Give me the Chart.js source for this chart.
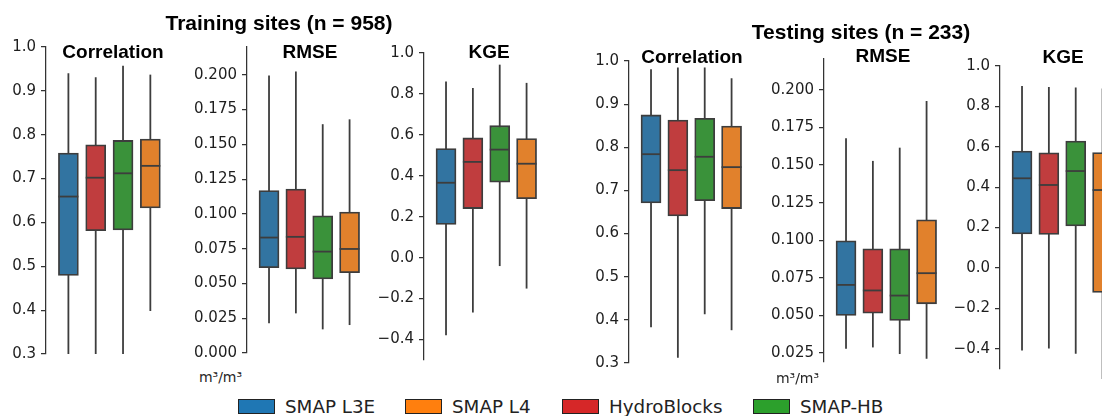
<!DOCTYPE html>
<html>
<head>
<meta charset="utf-8">
<script src="https://cdn.jsdelivr.net/npm/chart.js@4.4.1/dist/chart.umd.min.js"></script>
<style>
  html, body { margin: 0; padding: 0; background: #fff; }
  body { width: 1102px; height: 416px; position: relative; overflow: hidden; }
  canvas { position: absolute; }
  .title { position: absolute; transform: translateX(-50%); white-space: nowrap; line-height: 1;
           font-family: 'Liberation Sans', Arial, sans-serif; font-weight: bold; color: #000; }
  .unit { position: absolute; transform: translateX(-50%); white-space: nowrap; line-height: 1;
          font-family: 'DejaVu Sans', sans-serif; font-size: 14px; color: #262626; }
  .patch { position: absolute; width: 35px; height: 13px; border: 1px solid #222; }
  .ltext { position: absolute; line-height: 1; white-space: nowrap;
           font-family: 'DejaVu Sans', sans-serif; font-size: 18.3px; color: #222; }
</style>
</head>
<body>
<script>
// models, left to right inside each panel
const models = ['SMAP L3E', 'HydroBlocks', 'SMAP-HB', 'SMAP L4'];
const boxColors = ['#3274a1', '#c03d3e', '#3a923a', '#e1812c'];

// legend order
const legendLabels = ['SMAP L3E', 'SMAP L4', 'HydroBlocks', 'SMAP-HB'];
const legendColors = ['#1f77b4', '#ff7f0e', '#d62728', '#2ca02c'];

// each row: [whisker low, Q1, median, Q3, whisker high]
const trainCorr = [
    [0.30, 0.479, 0.659, 0.758, 0.940],
    [0.30, 0.581, 0.702, 0.777, 0.931],
    [0.30, 0.583, 0.712, 0.787, 0.957],
    [0.398, 0.633, 0.729, 0.790, 0.937],
];
const trainRmse = [
    [0.0214, 0.0614, 0.0830, 0.1168, 0.1995],
    [0.0285, 0.0604, 0.0835, 0.1178, 0.2024],
    [0.0170, 0.0532, 0.0729, 0.0986, 0.1645],
    [0.0201, 0.0578, 0.0748, 0.1014, 0.1680],
];
const trainKge = [
    [-0.379, 0.162, 0.366, 0.533, 0.861],
    [-0.268, 0.240, 0.468, 0.585, 0.829],
    [-0.041, 0.369, 0.528, 0.645, 0.943],
    [-0.151, 0.288, 0.459, 0.582, 0.854],
];
const testCorr = [
    [0.383, 0.671, 0.784, 0.875, 0.981],
    [0.312, 0.641, 0.747, 0.863, 0.985],
    [0.413, 0.676, 0.778, 0.867, 0.985],
    [0.376, 0.658, 0.754, 0.849, 0.960],
];
const testRmse = [
    [0.0278, 0.0500, 0.0703, 0.0996, 0.1679],
    [0.0287, 0.0515, 0.0666, 0.0943, 0.1528],
    [0.0243, 0.0466, 0.0632, 0.0943, 0.1616],
    [0.0211, 0.0577, 0.0781, 0.1136, 0.1927],
];
const testKge = [
    [-0.409, 0.169, 0.444, 0.579, 0.901],
    [-0.399, 0.166, 0.411, 0.570, 0.896],
    [-0.424, 0.208, 0.480, 0.628, 0.893],
    [-0.550, -0.121, 0.386, 0.572, 0.888],
];

// tick labels
const corrTicks = [0.3, 0.4, 0.5, 0.6, 0.7, 0.8, 0.9, 1.0];
const trainRmseTicks = [0, 0.025, 0.05, 0.075, 0.1, 0.125, 0.15, 0.175, 0.2];
const testRmseTicks = [0.025, 0.05, 0.075, 0.1, 0.125, 0.15, 0.175, 0.2];
const kgeTicks = [-0.4, -0.2, 0, 0.2, 0.4, 0.6, 0.8, 1.0];

const LINE = '#3d3d3d';
const AXW = 70;   // width reserved for y axis labels
const PAD = 14;

const panels = [
    { stats: trainCorr, ticks: corrTicks, dec: 1, min: 0.3, max: 1.0, axisX: 46, top: 47, bottom: 354, areaW: 118, title: 'Correlation', tx: 113, ty: 42 },
    { stats: trainRmse, ticks: trainRmseTicks, dec: 3, min: 0, max: 0.22, axisX: 247, top: 47, bottom: 353, areaW: 116, title: 'RMSE', tx: 310, ty: 42 },
    { stats: trainKge, ticks: kgeTicks, dec: 1, min: -0.5, max: 1.0, axisX: 424, top: 53, bottom: 360.5, areaW: 116, title: 'KGE', tx: 489, ty: 42 },
    { stats: testCorr, ticks: corrTicks, dec: 1, min: 0.3, max: 1.0, axisX: 629, top: 61, bottom: 363, areaW: 116, title: 'Correlation', tx: 692, ty: 46.5 },
    { stats: testRmse, ticks: testRmseTicks, dec: 3, min: 0.019, max: 0.2206, axisX: 824, top: 59, bottom: 362, areaW: 116, title: 'RMSE', tx: 883, ty: 46 },
    { stats: testKge, ticks: kgeTicks, dec: 1, min: -0.5, max: 1.0, axisX: 1000, top: 66, bottom: 369.5, areaW: 116, title: 'KGE', tx: 1063, ty: 46.5 },
];

function addText(cls, text, x, y, size) {
    const d = document.createElement('div');
    d.className = cls;
    d.textContent = text;
    d.style.left = x + 'px';
    d.style.top = y + 'px';
    if (size) d.style.fontSize = size + 'px';
    document.body.appendChild(d);
    return d;
}

// whiskers under the boxes, medians on top
function boxPlugin(stats) {
    return {
        id: 'boxes',
        beforeDatasetsDraw(chart) {
            const ctx = chart.ctx, xs = chart.scales.x, ys = chart.scales.y;
            ctx.save();
            ctx.strokeStyle = LINE;
            ctx.lineWidth = 1.8;
            stats.forEach((s, i) => {
                const px = xs.getPixelForValue(i);
                ctx.beginPath();
                ctx.moveTo(px, ys.getPixelForValue(s[0]));
                ctx.lineTo(px, ys.getPixelForValue(s[4]));
                ctx.stroke();
            });
            ctx.restore();
        },
        afterDatasetsDraw(chart) {
            const ctx = chart.ctx, ys = chart.scales.y;
            const bars = chart.getDatasetMeta(0).data;
            ctx.save();
            ctx.strokeStyle = LINE;
            ctx.lineWidth = 1.8;
            stats.forEach((s, i) => {
                const b = bars[i];
                const py = ys.getPixelForValue(s[2]);
                ctx.beginPath();
                ctx.moveTo(b.x - b.width / 2, py);
                ctx.lineTo(b.x + b.width / 2, py);
                ctx.stroke();
            });
            ctx.restore();
        }
    };
}

panels.forEach(p => {
    const cv = document.createElement('canvas');
    cv.width = AXW + p.areaW;
    cv.height = (p.bottom - p.top) + 2 * PAD;
    cv.style.left = (p.axisX - AXW) + 'px';
    cv.style.top = (p.top - PAD) + 'px';
    document.body.appendChild(cv);

    new Chart(cv, {
        type: 'bar',
        data: {
            datasets: [{
                label: 'boxes',
                data: p.stats.map((s, i) => ({ x: i, y: [s[1], s[3]] })),
                backgroundColor: boxColors,
                borderColor: LINE,
                borderWidth: 1.8,
                borderSkipped: false,
                barThickness: 20
            }]
        },
        options: {
            responsive: false,
            animation: false,
            events: [],
            layout: { padding: { left: 0, right: 0, top: PAD, bottom: PAD } },
            plugins: { legend: { display: false }, tooltip: { enabled: false } },
            scales: {
                x: { type: 'linear', display: false, offset: false, min: -0.82, max: 3.5 },
                y: {
                    min: p.min,
                    max: p.max,
                    afterFit: s => { s.width = AXW; },
                    afterBuildTicks: s => { s.ticks = p.ticks.map(v => ({ value: v })); },
                    ticks: {
                        autoSkip: false,
                        padding: 5,
                        color: '#1e1e1e',
                        font: { family: 'DejaVu Sans', size: 15 },
                        callback: v => v.toFixed(p.dec).replace('-', '\u2212')
                    },
                    grid: { drawOnChartArea: false, drawTicks: true, tickLength: 5, color: '#333', lineWidth: 1.25 },
                    border: { display: true, color: '#333', width: 1.25 }
                }
            }
        },
        plugins: [boxPlugin(p.stats)]
    });

    addText('title', p.title, p.tx, p.ty, 19);
});

// group titles and units
addText('title', 'Training sites (n = 958)', 279, 11.5, 21);
addText('title', 'Testing sites (n = 233)', 861, 20.5, 21);
addText('unit', 'm\u00b3/m\u00b3', 220.5, 370);
addText('unit', 'm\u00b3/m\u00b3', 797.5, 371);

// legend
const legendPatchX = [238, 405, 562, 753];
legendLabels.forEach((name, i) => {
    const pt = document.createElement('div');
    pt.className = 'patch';
    pt.style.left = legendPatchX[i] + 'px';
    pt.style.top = '399px';
    pt.style.background = legendColors[i];
    document.body.appendChild(pt);
    addText('ltext', name, legendPatchX[i] + 47, 398);
});
</script>
</body>
</html>
